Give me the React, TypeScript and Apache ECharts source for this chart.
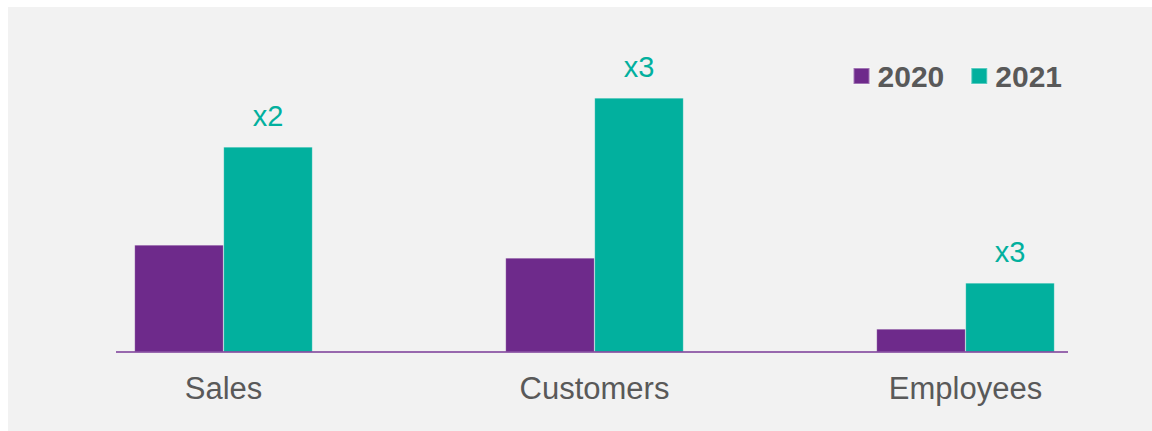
import React, { useEffect, useRef } from "react";
import * as echarts from "echarts";

const categories = ["Sales", "Customers", "Employees"];
const series2020 = [107, 94, 23];
const series2021 = [205, 254, 69];
const growthLabels = ["x2", "x3", "x3"];
const seriesNames = ["2020", "2021"];

const PURPLE = "#6e2a8b";
const TEAL = "#02b09e";
const TEXT = "#595959";
const BG = "#f2f2f2";

export default function App() {
  const ref = useRef<HTMLDivElement>(null);
  useEffect(() => {
    if (!ref.current) return;
    const chart = echarts.init(ref.current, null, { renderer: "svg" });
    chart.setOption({
      animation: false,
      backgroundColor: BG,
      textStyle: { fontFamily: "Liberation Sans, Arial, sans-serif" },
      legend: {
        right: 85,
        top: 49,
        itemWidth: 16,
        itemHeight: 16,
        itemGap: 26,
        icon: "rect",
        data: seriesNames,
        textStyle: {
          fontSize: 30,
          fontWeight: "bold",
          color: TEXT,
          fontFamily: "Liberation Sans, Arial, sans-serif",
          padding: [0, 0, 0, 3],
        },
      },
      grid: { left: 30, right: 1, top: 45, bottom: 79 },
      xAxis: {
        type: "category",
        data: categories,
        axisLine: { show: false },
        axisTick: { show: false },
        axisLabel: {
          fontSize: 31,
          color: TEXT,
          margin: 21,
          fontFamily: "Liberation Sans, Arial, sans-serif",
        },
      },
      yAxis: {
        type: "value",
        min: 0,
        max: 300,
        show: false,
        splitLine: { show: false },
      },
      graphic: [
        {
          type: "line",
          z: 10,
          shape: { x1: 108, y1: 345, x2: 1060, y2: 345 },
          style: { stroke: "#7a3a97", lineWidth: 1.5 },
        },
      ],
      series: [
        {
          name: seriesNames[0],
          type: "bar",
          data: series2020,
          barWidth: 89,
          barGap: "0%",
          itemStyle: { color: PURPLE, borderColor: "rgba(255,255,255,0.35)", borderWidth: 0.6 },
        },
        {
          name: seriesNames[1],
          type: "bar",
          data: series2021,
          barWidth: 89,
          barGap: "0%",
          itemStyle: { color: TEAL, borderColor: "rgba(255,255,255,0.35)", borderWidth: 0.6 },
          label: {
            show: true,
            position: "top",
            distance: 17,
            fontSize: 29,
            color: TEAL,
            fontFamily: "Liberation Sans, Arial, sans-serif",
            formatter: (p: any) => growthLabels[p.dataIndex],
          },
        },
      ],
    });
    return () => chart.dispose();
  }, []);
  return (
    <div
      ref={ref}
      style={{ position: "absolute", left: 8, top: 7, width: 1144, height: 424 }}
    />
  );
}
